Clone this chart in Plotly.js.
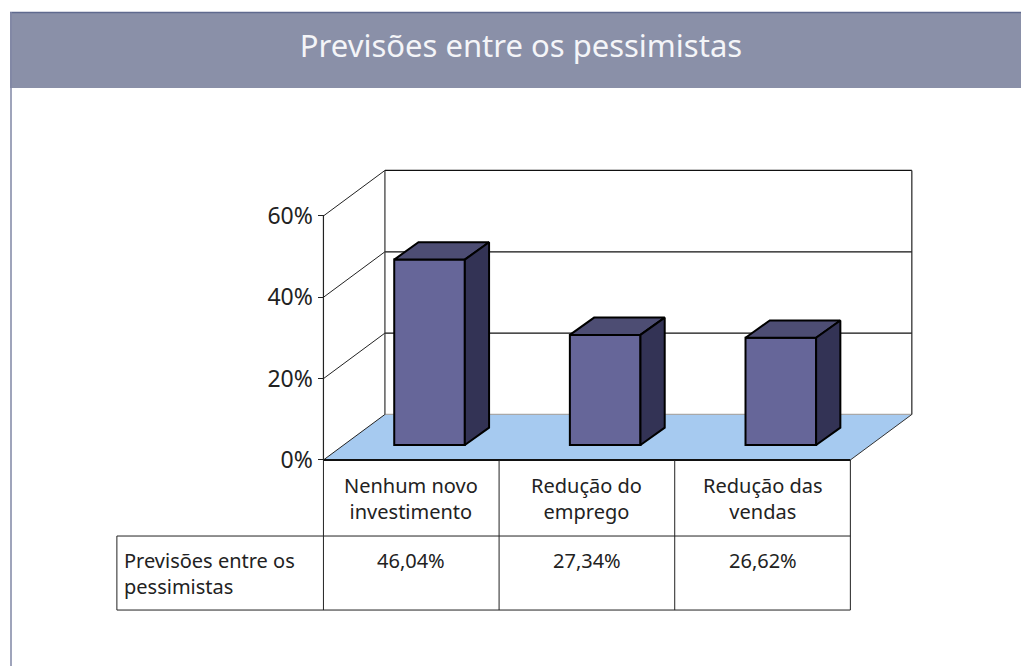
<!DOCTYPE html>
<html><head><meta charset="utf-8">
<script src="https://cdn.plot.ly/plotly-3.0.1.min.js"></script>
<style>html,body{margin:0;padding:0;background:#fff;overflow:hidden}#c{width:1021px;height:666px}</style>
</head><body><div id="c"></div>
<script>
const categories = ['Nenhum novo<br>investimento', 'Redução do<br>emprego', 'Redução das<br>vendas'];
const values = [46.04, 27.34, 26.62];
const seriesName = 'Previsões entre os<br>pessimistas';
const titleText = 'Previsões entre os pessimistas';
const yTicks = [0, 20, 40, 60];
const yTickText = ['0%', '20%', '40%', '60%'];

// 3-D look: how far the back wall sits from the front, in axis units
const depthX = 0.35, depthY = 11.19;
const barDepthX = 0.138, barDepthY = 4.25;
const barBase = 3.69, barScale = 0.99, barOffset = 0.403, barWidth = 0.402;
const font = '"Noto Sans", sans-serif';
const ink = '#111';

const shapes = [];
const seg = (x0, y0, x1, y1, color, width) => shapes.push({type:'line', xref:'x', yref:'y', x0, y0, x1, y1, layer:'below', line:{color, width}});

// page furniture
shapes.push({type:'rect', xref:'paper', yref:'paper', x0:10/1021, x1:1, y0:1-88/666, y1:1-12/666, fillcolor:'#8A90A8', line:{width:0}, layer:'below'});
shapes.push({type:'line', xref:'paper', yref:'paper', x0:10/1021, x1:1, y0:1-12.5/666, y1:1-12.5/666, line:{color:'#5F6A8E', width:1.5}, layer:'below'});
shapes.push({type:'line', xref:'paper', yref:'paper', x0:11/1021, x1:11/1021, y0:0, y1:1-12/666, line:{color:'#7F86A4', width:1.5}, layer:'below'});

// floor
shapes.push({type:'path', xref:'x', yref:'y', layer:'below', fillcolor:'#A6CAF0', line:{width:0},
  path:`M0,0 L3,0 L${3+depthX},${depthY} L${depthX},${depthY} Z`});
seg(depthX, depthY, 3+depthX, depthY, '#A8A8A8', 1.2);
seg(3, 0, 3+depthX, depthY, '#333', 1);
seg(0, 0, depthX, depthY, '#222', 1);
// walls and gridlines
yTicks.slice(1).forEach(t => {
  seg(0, t, depthX, t+depthY, '#222', 1);
  seg(depthX, t+depthY, 3+depthX, t+depthY, ink, 1.2);
});
seg(0, 0, 0, 60, '#222', 1.2);
seg(depthX, depthY, depthX, 60+depthY, '#333', 1.2);
seg(3+depthX, depthY, 3+depthX, 60+depthY, '#222', 1.2);

// data table
const tableLeft = -1.176, row1 = -18.7, row2 = -36.9;
seg(0, 0, 3, 0, ink, 2);
seg(tableLeft, row1, 3, row1, '#222', 1);
seg(tableLeft, row2, 3, row2, '#222', 1);
seg(tableLeft, row1, tableLeft, row2, '#222', 1);
[0,1,2,3].forEach(i => seg(i, 0, i, row2, '#222', 1));

// bars
const fronts = {type:'bar', x:values.map((v,i)=>i+barOffset+barWidth/2), y:values.map(v=>v*barScale), base:values.map(()=>barBase),
  width:barWidth, marker:{color:'#666699', line:{color:'#000', width:2}}, hoverinfo:'skip', showlegend:false};
const face = (xs, ys, color) => ({type:'scatter', mode:'lines', x:xs, y:ys, fill:'toself', fillcolor:color, line:{color:'#000', width:2}, hoverinfo:'skip', showlegend:false});
const faces = [];
values.forEach((v,i) => {
  const l = i+barOffset, r = l+barWidth, b = barBase, t = barBase+v*barScale;
  faces.push(face([l, r, r+barDepthX, l+barDepthX, l], [t, t, t+barDepthY, t+barDepthY, t], '#4D4D73'));
  faces.push(face([r, r+barDepthX, r+barDepthX, r, r], [b, b+barDepthY, t+barDepthY, t, b], '#333355'));
});

// table text
const annotations = [];
const note = (x, y, text, align, xanchor, yanchor) => annotations.push({xref:'x', yref:'y', x, y, text, showarrow:false, align, xanchor, yanchor:yanchor||'middle', font:{family:font, size:20, color:'#222'}});
categories.forEach((c,i) => note(i+0.5, -9.4, c, 'center', 'center'));
values.forEach((v,i) => note(i+0.5, -24.6, v.toFixed(2).replace('.', ',')+'%', 'center', 'center'));
note(tableLeft+0.03, -27.8, seriesName, 'left', 'left');

const data = [fronts, ...faces];
const layout = {
  width:1021, height:666, margin:{l:0,r:0,t:0,b:0}, paper_bgcolor:'#fff', plot_bgcolor:'rgba(0,0,0,0)', showlegend:false, barmode:'overlay',
  title:{text:titleText, x:521/1021, xanchor:'center', y:1-46/666, yanchor:'middle', font:{family:font, size:31, color:'#F4F5F8'}},
  xaxis:{range:[-1.8415, 3.9715], showgrid:false, zeroline:false, showticklabels:false, ticks:'', fixedrange:true},
  yaxis:{range:[-50.66, 113.1], anchor:'free', position:323.5/1021, tickvals:yTicks, ticktext:yTickText, ticks:'outside', ticklen:6, tickcolor:'#222', tickwidth:1,
    showgrid:false, zeroline:false, showline:false, tickfont:{family:font, size:23, color:'#222'}, fixedrange:true},
  shapes, annotations
};
Plotly.newPlot('c', data, layout, {displayModeBar:false, staticPlot:true});
</script></body></html>
